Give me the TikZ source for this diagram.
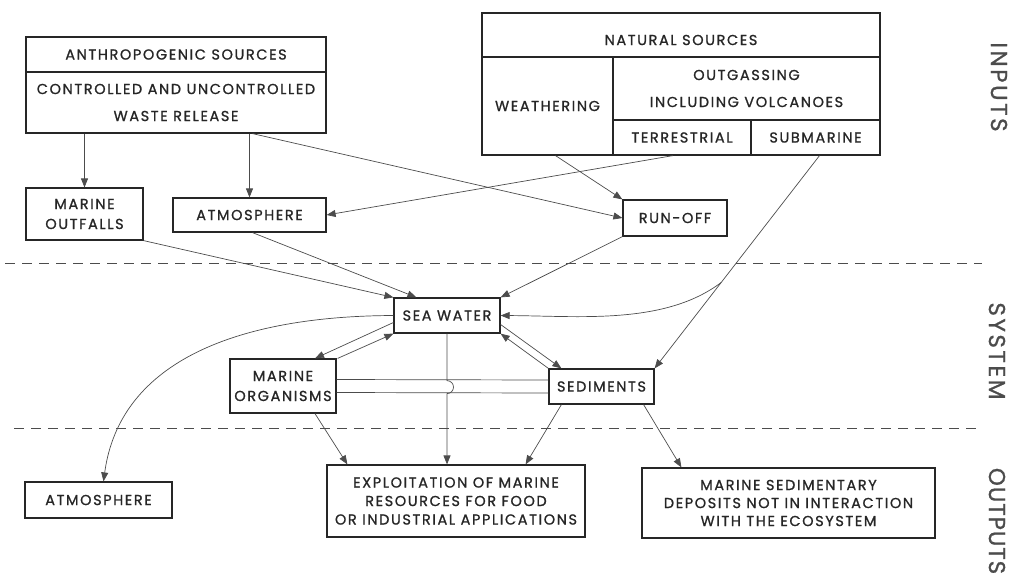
\documentclass[tikz,border=0pt]{standalone}
\usepackage{fontspec}
\setmainfont{Poppins}[LetterSpace=11, FakeBold=1]
\usetikzlibrary{arrows.meta,calc}
\newcommand\bxfont{\fontsize{14.5}{20}\selectfont}
\newcommand\sidefont{\fontsize{23}{26}\selectfont}
\begin{document}
\begin{tikzpicture}[x=1pt,y=-1pt,
  box/.style={draw=black!85, line width=1.2pt, inner sep=0pt, align=center, font=\bxfont, text=black!85},
  conn/.style={draw=black!70, line width=0.7pt, -{Triangle[length=9pt,width=7pt]}},
  plain/.style={draw=black!70, line width=0.7pt},
  sep/.style={draw=black!70, line width=1pt, dash pattern=on 10pt off 7pt},
  side/.style={font=\sidefont, text=black!70, rotate=-90}]
\useasboundingbox (0,0) rectangle (1014,574);
% separators
\coordinate (d1a) at (5,263); \coordinate (d1b) at (982,263);
\coordinate (d2a) at (14,428); \coordinate (d2b) at (982,428);
\draw[sep] (d1a) -- (d1b);
\draw[sep] (d2a) -- (d2b);
% side labels
\node[side] (lin) at (999,87) {INPUTS};
\node[side] (lsys) at (997,351) {SYSTEM};
\node[side, font=\sidefont\addfontfeature{LetterSpace=4}] (lout) at (997,521) {OUTPUTS};
% anthropogenic
\node[box, minimum width=300pt, minimum height=35pt] (anthT) at (176,54.5) {ANTHROPOGENIC SOURCES};
\node[box, minimum width=300pt, minimum height=61pt, font=\fontsize{14.5}{27}\selectfont] (anthB) at (176,102.5) {CONTROLLED AND UNCONTROLLED\\WASTE RELEASE};
% natural
\node[box, minimum width=398pt, minimum height=44pt, label={[name=natL, font=\bxfont, text=black!85, yshift=-5pt]center:NATURAL SOURCES}] (natT) at (681,35) {};
\node[box, minimum width=131pt, minimum height=98pt] (weath) at (547.5,106) {WEATHERING};
\node[box, minimum width=267pt, minimum height=63pt, font=\fontsize{14.5}{27}\selectfont] (outg) at (746.5,88.5) {OUTGASSING\\INCLUDING VOLCANOES};
\node[box, minimum width=138pt, minimum height=35pt] (terr) at (682,137.5) {TERRESTRIAL};
\node[box, minimum width=129pt, minimum height=35pt] (subm) at (815.5,137.5) {SUBMARINE};
% inputs
\node[box, minimum width=117pt, minimum height=52pt] (mout) at (84.5,214) {MARINE\\OUTFALLS};
\node[box, minimum width=153pt, minimum height=34pt] (atm1) at (249.5,215) {ATMOSPHERE};
\node[box, minimum width=104pt, minimum height=36pt] (runoff) at (675,218) {RUN-OFF};
% system
\node[box, minimum width=106pt, minimum height=35pt] (sw) at (447,315.5) {SEA WATER};
\node[box, minimum width=106pt, minimum height=54pt] (mo) at (283,386) {MARINE\\ORGANISMS};
\node[box, minimum width=105pt, minimum height=35pt] (sed) at (601.5,386.5) {SEDIMENTS};
% outputs
\node[box, minimum width=258pt, minimum height=72pt, font=\fontsize{14.5}{18.5}\selectfont] (expl) at (456,501) {EXPLOITATION OF MARINE\\RESOURCES FOR FOOD\\OR INDUSTRIAL APPLICATIONS};
\node[box, minimum width=293pt, minimum height=70pt, font=\fontsize{14.5}{18}\selectfont] (msd) at (788.5,503) {MARINE SEDIMENTARY\\DEPOSITS NOT IN INTERACTION\\WITH THE ECOSYSTEM};
\node[box, minimum width=147pt, minimum height=36pt] (atm2) at (98.5,500) {ATMOSPHERE};
% connectors: inputs
\draw[conn] (anthB.south -| mout.north) -- (mout.north);
\draw[conn] (anthB.south -| atm1.north) -- (atm1.north);
\draw[conn] ($(anthB.south -| atm1.north)+(3,0)$) -- (runoff.west);
\draw[conn] ($(terr.south)+(-9,0)$) -- (atm1.east);
\draw[conn] ($(weath.south)+(8,0)$) -- (runoff.north west);
\coordinate (subA) at ($(subm.south)+(4,0)$);
\draw[conn] (subA) -- (sed.north east);
\coordinate (br) at ($(subA)!0.596!(sed.north east)$);
\draw[conn] (br) .. controls (665,325) and (580,316) .. (sw.east);
\draw[conn] (runoff.south west) -- (sw.north east);
\draw[conn] (mout.south east) -- (sw.north west);
\draw[conn] ($(atm1.south)+(3,0)$) -- ($(sw.north west)+(23,0)$);
% system
\draw[conn] (sw.west) .. controls (240,316) and (120,360) .. ($(atm2.north)+(5,0)$);
\draw[conn] ($(sw.west)+(0,7)$) -- ($(mo.north)+(32,0)$);
\draw[conn] ($(mo.north east)+(1,0)$) -- (sw.south west);
\draw[conn] ($(sw.east)+(0,9)$) -- ($(sed.north west)+(13,0)$);
\draw[conn] (sed.north west) -- (sw.south east);
\draw[plain] ($(mo.east)+(0,-6.5)$) -- ($(sed.west)+(0,-6.5)$);
\draw[plain] ($(mo.east)+(0,6.5)$) -- ($(sed.west)+(0,6.5)$);
\coordinate (hopA) at ($(sw.south)+(0,47)$);
\draw[conn] (sw.south) -- (hopA) arc[start angle=-90, end angle=90, radius=6.5] -- (sw.south |- expl.north);
% outputs
\draw[conn] ($(mo.south)+(32,0)$) -- ($(expl.north west)+(21,0)$);
\draw[conn] ($(sed.south west)+(13,0)$) -- ($(expl.north east)+(-60,0)$);
\draw[conn] ($(sed.south east)+(-11,0)$) -- ($(msd.north west)+(40,0)$);
\end{tikzpicture}
\end{document}
